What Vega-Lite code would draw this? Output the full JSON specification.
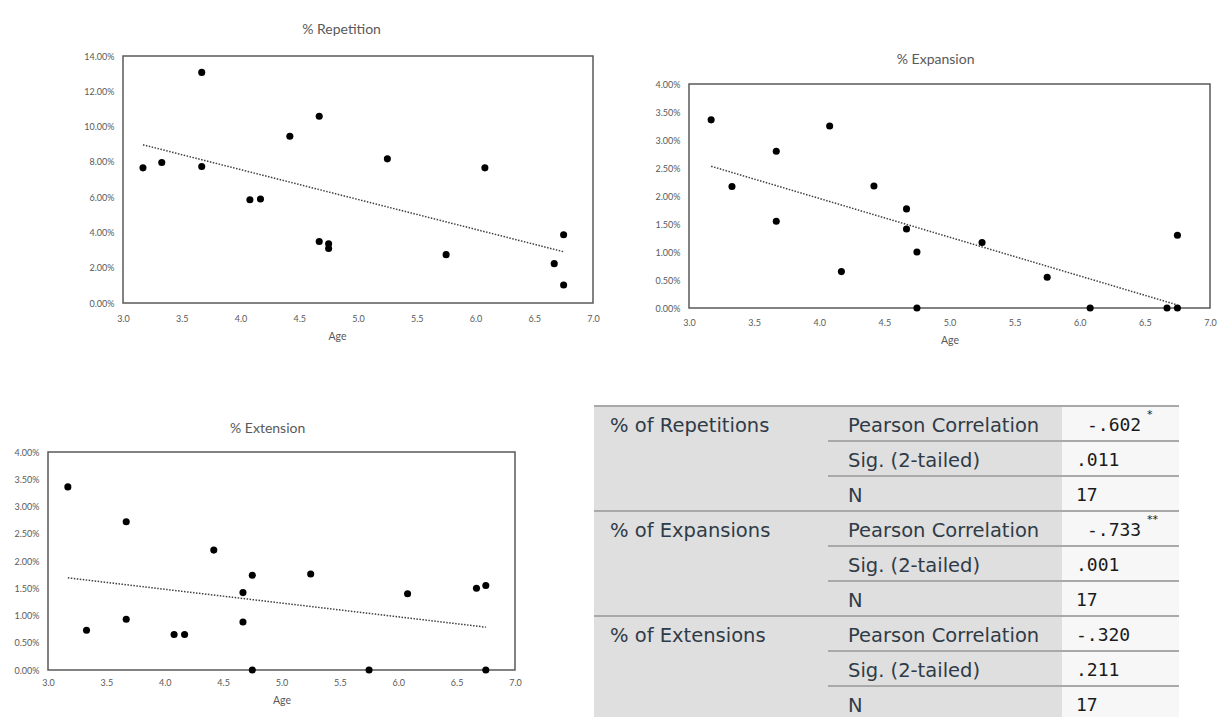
{
  "$schema": "https://vega.github.io/schema/vega-lite/v6.json",
  "padding": {"left": 13, "top": 20, "right": 0, "bottom": 0},
  "autosize": {"type": "pad"},
  "background": "white",
  "config": {
    "view": {"stroke": null},
    "axis": {"grid": false, "ticks": false, "domain": false, "labelFont": "Lato", "labelColor": "#595959", "labelFontSize": 9, "titleFont": "Lato", "titleColor": "#595959", "titleFontWeight": "normal", "titleFontSize": 10.5, "labelFlush": false},
    "title": {"font": "Lato", "fontSize": 14, "color": "#595959", "fontWeight": "normal", "frame": "bounds", "anchor": "middle"}
  },
  "datasets": {
    "rep": [
      {"age": 3.17, "pct": 0.0766}, {"age": 3.33, "pct": 0.0796}, {"age": 3.67, "pct": 0.1307}, {"age": 3.67, "pct": 0.0774},
      {"age": 4.08, "pct": 0.0585}, {"age": 4.17, "pct": 0.0589}, {"age": 4.42, "pct": 0.0945}, {"age": 4.67, "pct": 0.1058},
      {"age": 4.67, "pct": 0.0349}, {"age": 4.75, "pct": 0.0336}, {"age": 4.75, "pct": 0.0309}, {"age": 5.25, "pct": 0.0817},
      {"age": 5.75, "pct": 0.0274}, {"age": 6.08, "pct": 0.0766}, {"age": 6.67, "pct": 0.0223}, {"age": 6.75, "pct": 0.0387},
      {"age": 6.75, "pct": 0.0102}
    ],
    "exp": [
      {"age": 3.17, "pct": 0.0336}, {"age": 3.33, "pct": 0.0217}, {"age": 3.67, "pct": 0.0280}, {"age": 3.67, "pct": 0.0155},
      {"age": 4.08, "pct": 0.0325}, {"age": 4.17, "pct": 0.0065}, {"age": 4.42, "pct": 0.0218}, {"age": 4.67, "pct": 0.0177},
      {"age": 4.67, "pct": 0.0141}, {"age": 4.75, "pct": 0.0100}, {"age": 4.75, "pct": 0.0}, {"age": 5.25, "pct": 0.0117},
      {"age": 5.75, "pct": 0.0055}, {"age": 6.08, "pct": 0.0}, {"age": 6.67, "pct": 0.0}, {"age": 6.75, "pct": 0.0},
      {"age": 6.75, "pct": 0.0130}
    ],
    "ext": [
      {"age": 3.17, "pct": 0.0336}, {"age": 3.33, "pct": 0.0073}, {"age": 3.67, "pct": 0.0272}, {"age": 3.67, "pct": 0.0093},
      {"age": 4.08, "pct": 0.0065}, {"age": 4.17, "pct": 0.0065}, {"age": 4.42, "pct": 0.0220}, {"age": 4.67, "pct": 0.0142},
      {"age": 4.67, "pct": 0.0088}, {"age": 4.75, "pct": 0.0174}, {"age": 4.75, "pct": 0.0}, {"age": 5.25, "pct": 0.0176},
      {"age": 5.75, "pct": 0.0}, {"age": 6.08, "pct": 0.0140}, {"age": 6.67, "pct": 0.0150}, {"age": 6.75, "pct": 0.0155},
      {"age": 6.75, "pct": 0.0}
    ],
    "slots": [{"slot": "a"}, {"slot": "b"}, {"slot": "c"}, {"slot": "d"}, {"slot": "e"}],
    "lines": [
      {"row": 1, "span": "full"}, {"row": 2, "span": "part", "slot": "c"}, {"row": 3, "span": "part", "slot": "c"},
      {"row": 4, "span": "full"}, {"row": 5, "span": "part", "slot": "c"}, {"row": 6, "span": "part", "slot": "c"},
      {"row": 7, "span": "full"}, {"row": 8, "span": "part", "slot": "c"}, {"row": 9, "span": "part", "slot": "c"}
    ],
    "cells": [
      {"row": 1, "slot": "a", "part": "label", "text": "% of Repetitions"},
      {"row": 4, "slot": "a", "part": "label", "text": "% of Expansions"},
      {"row": 7, "slot": "a", "part": "label", "text": "% of Extensions"},
      {"row": 1, "slot": "c", "part": "stat", "text": "Pearson Correlation"},
      {"row": 2, "slot": "c", "part": "stat", "text": "Sig. (2-tailed)"},
      {"row": 3, "slot": "c", "part": "stat", "text": "N"},
      {"row": 4, "slot": "c", "part": "stat", "text": "Pearson Correlation"},
      {"row": 5, "slot": "c", "part": "stat", "text": "Sig. (2-tailed)"},
      {"row": 6, "slot": "c", "part": "stat", "text": "N"},
      {"row": 7, "slot": "c", "part": "stat", "text": "Pearson Correlation"},
      {"row": 8, "slot": "c", "part": "stat", "text": "Sig. (2-tailed)"},
      {"row": 9, "slot": "c", "part": "stat", "text": "N"},
      {"row": 1, "slot": "e", "part": "flagged", "text": "-.602", "sup": "*"},
      {"row": 2, "slot": "e", "part": "value", "text": ".011"},
      {"row": 3, "slot": "e", "part": "value", "text": "17"},
      {"row": 4, "slot": "e", "part": "flagged", "text": "-.733", "sup": "**"},
      {"row": 5, "slot": "e", "part": "value", "text": ".001"},
      {"row": 6, "slot": "e", "part": "value", "text": "17"},
      {"row": 7, "slot": "e", "part": "value", "text": "-.320"},
      {"row": 8, "slot": "e", "part": "value", "text": ".211"},
      {"row": 9, "slot": "e", "part": "value", "text": "17"}
    ]
  },
  "spacing": 58,
  "vconcat": [
    {
      "spacing": 0,
      "hconcat": [
        {"data": {"values": []}, "mark": "point", "width": 35, "height": 1},
        {
          "spacing": 53,
          "hconcat": [
            {
              "spacing": 0,
              "vconcat": [
                {"data": {"values": []}, "mark": "point", "width": 1, "height": 2},
                {
                  "width": 470, "height": 247,
                  "title": {"text": "% Repetition", "offset": 15},
                  "view": {"stroke": "#595959", "strokeWidth": 1.5},
                  "data": {"name": "rep"},
                  "encoding": {
                    "x": {"field": "age", "type": "quantitative", "scale": {"domain": [3, 7], "nice": false, "zero": false},
                          "axis": {"values": [3, 3.5, 4, 4.5, 5, 5.5, 6, 6.5, 7], "format": ".1f", "title": "Age", "labelPadding": 11, "titlePadding": 8, "titleX": 214}},
                    "y": {"field": "pct", "type": "quantitative", "scale": {"domain": [0, 0.14], "nice": false},
                          "axis": {"values": [0, 0.02, 0.04, 0.06, 0.08, 0.1, 0.12, 0.14], "format": ".2%", "title": null, "labelPadding": 9}}
                  },
                  "layer": [
                    {"mark": {"type": "circle", "size": 50, "color": "#000000", "opacity": 1}},
                    {"transform": [{"regression": "pct", "on": "age"}], "mark": {"type": "line", "color": "#404040", "strokeWidth": 1.5, "strokeDash": [1.5, 1.5]}}
                  ]
                }
              ]
            },
            {
              "spacing": 0,
              "vconcat": [
                {"data": {"values": []}, "mark": "point", "width": 1, "height": 32},
                {
                  "width": 521, "height": 224,
                  "title": {"text": "% Expansion", "offset": 13},
                  "view": {"stroke": "#595959", "strokeWidth": 1.5},
                  "data": {"name": "exp"},
                  "encoding": {
                    "x": {"field": "age", "type": "quantitative", "scale": {"domain": [3, 7], "nice": false, "zero": false},
                          "axis": {"values": [3, 3.5, 4, 4.5, 5, 5.5, 6, 6.5, 7], "format": ".1f", "title": "Age", "labelPadding": 10.5, "titlePadding": 7.5}},
                    "y": {"field": "pct", "type": "quantitative", "scale": {"domain": [0, 0.04], "nice": false},
                          "axis": {"values": [0, 0.005, 0.01, 0.015, 0.02, 0.025, 0.03, 0.035, 0.04], "format": ".2%", "title": null, "labelPadding": 9}}
                  },
                  "layer": [
                    {"mark": {"type": "circle", "size": 50, "color": "#000000", "opacity": 1}},
                    {"transform": [{"regression": "pct", "on": "age"}], "mark": {"type": "line", "color": "#404040", "strokeWidth": 1.5, "strokeDash": [1.5, 1.5]}}
                  ]
                }
              ]
            }
          ]
        }
      ]
    },
    {
      "spacing": 70,
      "hconcat": [
        {
          "spacing": 0,
          "vconcat": [
            {"data": {"values": []}, "mark": "point", "width": 1, "height": 15},
            {
              "width": 467, "height": 218,
              "title": {"text": "% Extension", "offset": 12},
              "view": {"stroke": "#595959", "strokeWidth": 1.5},
              "data": {"name": "ext"},
              "encoding": {
                "x": {"field": "age", "type": "quantitative", "scale": {"domain": [3, 7], "nice": false, "zero": false},
                      "axis": {"values": [3, 3.5, 4, 4.5, 5, 5.5, 6, 6.5, 7], "format": ".1f", "title": "Age", "labelPadding": 8.5, "titlePadding": 7.5}},
                "y": {"field": "pct", "type": "quantitative", "scale": {"domain": [0, 0.04], "nice": false},
                      "axis": {"values": [0, 0.005, 0.01, 0.015, 0.02, 0.025, 0.03, 0.035, 0.04], "format": ".2%", "title": null, "labelPadding": 9}}
              },
              "layer": [
                {"mark": {"type": "circle", "size": 50, "color": "#000000", "opacity": 1}},
                {"transform": [{"regression": "pct", "on": "age"}], "mark": {"type": "line", "color": "#404040", "strokeWidth": 1.5, "strokeDash": [1.5, 1.5]}}
              ]
            }
          ]
        },
        {
          "width": 585, "height": 311,
          "layer": [
            {
              "data": {"name": "slots"},
              "mark": {"type": "rect"},
              "encoding": {
                "x": {"field": "slot", "type": "nominal", "scale": {"domain": ["a", "b", "c", "d", "e"], "paddingInner": 0, "paddingOuter": 0}, "axis": null},
                "color": {"condition": {"test": "datum.slot === 'e'", "value": "#f7f7f7"}, "value": "#dfdfdf"}
              }
            },
            {
              "data": {"name": "lines"},
              "transform": [{"filter": "datum.span === 'full'"}],
              "mark": {"type": "rule", "color": "#a9a9a9", "strokeWidth": 2},
              "encoding": {
                "y": {"field": "row", "type": "ordinal", "bandPosition": 0, "scale": {"domain": [1, 2, 3, 4, 5, 6, 7, 8, 9], "range": [0, 315], "paddingInner": 0, "paddingOuter": 0}, "axis": null}
              }
            },
            {
              "data": {"name": "lines"},
              "transform": [{"filter": "datum.span === 'part'"}],
              "mark": {"type": "rule", "color": "#a9a9a9", "strokeWidth": 2},
              "encoding": {
                "y": {"field": "row", "type": "ordinal", "bandPosition": 0, "scale": {"domain": [1, 2, 3, 4, 5, 6, 7, 8, 9], "range": [0, 315], "paddingInner": 0, "paddingOuter": 0}, "axis": null},
                "x": {"field": "slot", "type": "nominal", "bandPosition": 0, "scale": {"domain": ["a", "b", "c", "d", "e"], "paddingInner": 0, "paddingOuter": 0}, "axis": null},
                "x2": {"value": "width"}
              }
            },
            {
              "data": {"name": "cells"},
              "transform": [{"filter": "datum.part === 'label'"}],
              "mark": {"type": "text", "align": "left", "baseline": "middle", "dx": 16, "dy": 2, "font": "DejaVu Sans", "fontSize": 19.5, "color": "#2f3b47"},
              "encoding": {
                "y": {"field": "row", "type": "ordinal", "scale": {"domain": [1, 2, 3, 4, 5, 6, 7, 8, 9], "range": [0, 315], "paddingInner": 0, "paddingOuter": 0}, "axis": null},
                "x": {"field": "slot", "type": "nominal", "bandPosition": 0, "scale": {"domain": ["a", "b", "c", "d", "e"], "paddingInner": 0, "paddingOuter": 0}, "axis": null},
                "text": {"field": "text"}
              }
            },
            {
              "data": {"name": "cells"},
              "transform": [{"filter": "datum.part === 'stat'"}],
              "mark": {"type": "text", "align": "left", "baseline": "middle", "dx": 20, "dy": 2, "font": "DejaVu Sans", "fontSize": 19.5, "color": "#2f3b47"},
              "encoding": {
                "y": {"field": "row", "type": "ordinal", "scale": {"domain": [1, 2, 3, 4, 5, 6, 7, 8, 9], "range": [0, 315], "paddingInner": 0, "paddingOuter": 0}, "axis": null},
                "x": {"field": "slot", "type": "nominal", "bandPosition": 0, "scale": {"domain": ["a", "b", "c", "d", "e"], "paddingInner": 0, "paddingOuter": 0}, "axis": null},
                "text": {"field": "text"}
              }
            },
            {
              "data": {"name": "cells"},
              "transform": [{"filter": "datum.part === 'value'"}],
              "mark": {"type": "text", "align": "left", "baseline": "middle", "dx": 14, "dy": 2, "font": "DejaVu Sans Mono", "fontSize": 18, "color": "#1a1a1a"},
              "encoding": {
                "y": {"field": "row", "type": "ordinal", "scale": {"domain": [1, 2, 3, 4, 5, 6, 7, 8, 9], "range": [0, 315], "paddingInner": 0, "paddingOuter": 0}, "axis": null},
                "x": {"field": "slot", "type": "nominal", "bandPosition": 0, "scale": {"domain": ["a", "b", "c", "d", "e"], "paddingInner": 0, "paddingOuter": 0}, "axis": null},
                "text": {"field": "text"}
              }
            },
            {
              "data": {"name": "cells"},
              "transform": [{"filter": "datum.part === 'flagged'"}],
              "mark": {"type": "text", "align": "left", "baseline": "middle", "dx": 25, "dy": 2, "font": "DejaVu Sans Mono", "fontSize": 18, "color": "#1a1a1a"},
              "encoding": {
                "y": {"field": "row", "type": "ordinal", "scale": {"domain": [1, 2, 3, 4, 5, 6, 7, 8, 9], "range": [0, 315], "paddingInner": 0, "paddingOuter": 0}, "axis": null},
                "x": {"field": "slot", "type": "nominal", "bandPosition": 0, "scale": {"domain": ["a", "b", "c", "d", "e"], "paddingInner": 0, "paddingOuter": 0}, "axis": null},
                "text": {"field": "text"}
              }
            },
            {
              "data": {"name": "cells"},
              "transform": [{"filter": "datum.part === 'flagged'"}],
              "mark": {"type": "text", "align": "left", "baseline": "middle", "dx": 85, "dy": -9, "font": "DejaVu Sans", "fontSize": 11, "color": "#1a1a1a"},
              "encoding": {
                "y": {"field": "row", "type": "ordinal", "scale": {"domain": [1, 2, 3, 4, 5, 6, 7, 8, 9], "range": [0, 315], "paddingInner": 0, "paddingOuter": 0}, "axis": null},
                "x": {"field": "slot", "type": "nominal", "bandPosition": 0, "scale": {"domain": ["a", "b", "c", "d", "e"], "paddingInner": 0, "paddingOuter": 0}, "axis": null},
                "text": {"field": "sup"}
              }
            }
          ]
        }
      ]
    }
  ]
}
